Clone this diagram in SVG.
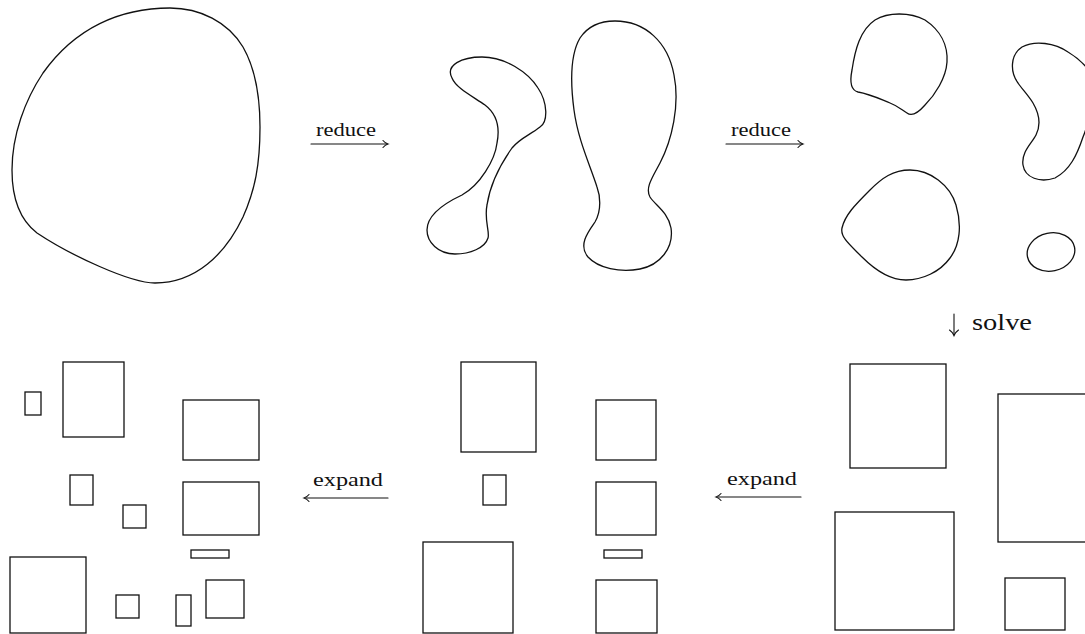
<svg xmlns="http://www.w3.org/2000/svg" width="1085" height="634" viewBox="0 0 1085 634">
  <style>
    .shape { fill: none; stroke: #111; stroke-width: 1.3; stroke-linejoin: round; }
    .box { fill: none; stroke: #111; stroke-width: 1.3; }
    .arrow { fill: none; stroke: #111; stroke-width: 1.1; stroke-linecap: round; }
    .lbl { font-family: "Liberation Serif", "DejaVu Serif", serif; fill: #111; }
  </style>
  <rect width="1085" height="634" fill="#fff"/>

  <!-- stage 1: single region -->
  <g id="region-whole">
    <path class="shape" d="M 170,8 C 200,8 228,22 243,47 C 255,68 260,95 260,127 C 260,165 255,190 243,217 C 225,255 195,283 155,283 C 130,283 70,255 37,233 C 20,220 12,200 12,170 C 12,135 25,100 43,73 C 75,28 120,8 170,8 Z"/>
  </g>

  <!-- stage 2: two sub-regions -->
  <g id="region-split">
    <path class="shape" d="M 452,78 C 445,65 462,57 482,57 C 505,57 528,72 538,88 C 548,103 548,122 540,127 C 530,135 520,138 512,148 C 500,165 490,185 487,205 C 484,220 490,232 488,238 C 485,248 470,254 455,254 C 438,254 427,242 427,230 C 427,215 445,203 462,195 C 480,185 495,160 497,143 C 500,128 498,115 485,105 C 472,96 456,88 452,78 Z"/>
    <path class="shape" d="M 615,21 C 645,21 668,42 674,75 C 680,105 672,140 660,163 C 652,178 645,188 650,197 C 655,205 668,212 671,228 C 674,248 660,265 640,269 C 620,273 598,268 588,257 C 578,245 588,232 595,222 C 602,210 600,195 597,187 C 590,165 578,140 574,110 C 570,80 570,55 580,38 C 588,26 600,21 615,21 Z"/>
  </g>

  <!-- stage 3: four small regions -->
  <g id="region-leaves">
    <path class="shape" d="M 858,92 C 850,90 850,80 852,70 C 855,50 860,30 875,20 C 888,12 910,12 925,20 C 940,30 948,45 947,62 C 946,78 935,95 925,105 C 918,113 912,117 907,113 C 902,110 898,106 890,103 C 880,99 870,94 858,92 Z"/>
    <path class="shape" d="M 1018,83 C 1010,72 1010,55 1022,47 C 1035,40 1055,43 1068,52 C 1078,58 1085,65 1090,72 C 1095,90 1090,120 1083,137 C 1077,155 1070,170 1055,178 C 1040,183 1025,178 1023,165 C 1021,152 1032,143 1036,135 C 1041,125 1040,115 1033,103 C 1028,95 1022,89 1018,83 Z"/>
    <path class="shape" d="M 842,228 C 845,215 855,205 870,190 C 882,178 893,170 910,170 C 930,170 950,185 956,205 C 962,225 960,245 950,258 C 940,272 922,280 906,280 C 890,280 875,270 862,257 C 850,245 840,237 842,228 Z"/>
    <ellipse class="shape" cx="1051" cy="252" rx="24" ry="19" transform="rotate(-12 1051 252)"/>
  </g>

  <!-- stage 4: solved leaves -->
  <g id="solved-leaves">
    <rect class="box" x="850" y="364" width="96" height="104"/>
    <rect class="box" x="998" y="394" width="95" height="148"/>
    <rect class="box" x="835" y="512" width="119" height="118"/>
    <rect class="box" x="1005" y="578" width="60" height="52"/>
  </g>

  <!-- stage 5: first expansion -->
  <g id="expanded-once">
    <rect class="box" x="461" y="362" width="75" height="90"/>
    <rect class="box" x="596" y="400" width="60" height="60"/>
    <rect class="box" x="483" y="475" width="23" height="30"/>
    <rect class="box" x="596" y="482" width="60" height="53"/>
    <rect class="box" x="604" y="550" width="38" height="8"/>
    <rect class="box" x="423" y="542" width="90" height="91"/>
    <rect class="box" x="596" y="580" width="61" height="53"/>
  </g>

  <!-- stage 6: second expansion -->
  <g id="expanded-twice">
    <rect class="box" x="25" y="392" width="16" height="23"/>
    <rect class="box" x="63" y="362" width="61" height="75"/>
    <rect class="box" x="183" y="400" width="76" height="60"/>
    <rect class="box" x="70" y="475" width="23" height="30"/>
    <rect class="box" x="123" y="505" width="23" height="23"/>
    <rect class="box" x="183" y="482" width="76" height="53"/>
    <rect class="box" x="191" y="550" width="38" height="8"/>
    <rect class="box" x="10" y="557" width="76" height="76"/>
    <rect class="box" x="116" y="595" width="23" height="23"/>
    <rect class="box" x="176" y="595" width="15" height="31"/>
    <rect class="box" x="206" y="580" width="38" height="38"/>
  </g>

  <!-- transitions between stages -->
  <g id="connectors">
    <g id="reduce-1">
      <line class="arrow" x1="311" y1="144" x2="387" y2="144"/>
      <path class="arrow" d="M 383,140.5 Q 385,143 388,144 Q 385,145 383,147.5"/>
      <text class="lbl" x="316" y="136" font-size="19" textLength="60" lengthAdjust="spacingAndGlyphs">reduce</text>
    </g>
    <g id="reduce-2">
      <line class="arrow" x1="726" y1="144" x2="802" y2="144"/>
      <path class="arrow" d="M 798,140.5 Q 800,143 803,144 Q 800,145 798,147.5"/>
      <text class="lbl" x="731" y="136" font-size="19" textLength="60" lengthAdjust="spacingAndGlyphs">reduce</text>
    </g>
    <g id="solve">
      <line class="arrow" x1="954" y1="314" x2="954" y2="335"/>
      <path class="arrow" d="M 949.5,330 Q 953,332.5 954,335.5 Q 955,332.5 958.5,330"/>
      <text class="lbl" x="972" y="330" font-size="24" textLength="60" lengthAdjust="spacingAndGlyphs">solve</text>
    </g>
    <g id="expand-1">
      <line class="arrow" x1="718" y1="497" x2="801" y2="497"/>
      <path class="arrow" d="M 721,493.5 Q 719,496 716,497 Q 719,498 721,500.5"/>
      <text class="lbl" x="727" y="485" font-size="19" textLength="70" lengthAdjust="spacingAndGlyphs">expand</text>
    </g>
    <g id="expand-2">
      <line class="arrow" x1="306" y1="498" x2="388" y2="498"/>
      <path class="arrow" d="M 309,494.5 Q 307,497 304,498 Q 307,499 309,501.5"/>
      <text class="lbl" x="313" y="486" font-size="19" textLength="70" lengthAdjust="spacingAndGlyphs">expand</text>
    </g>
  </g>
</svg>
